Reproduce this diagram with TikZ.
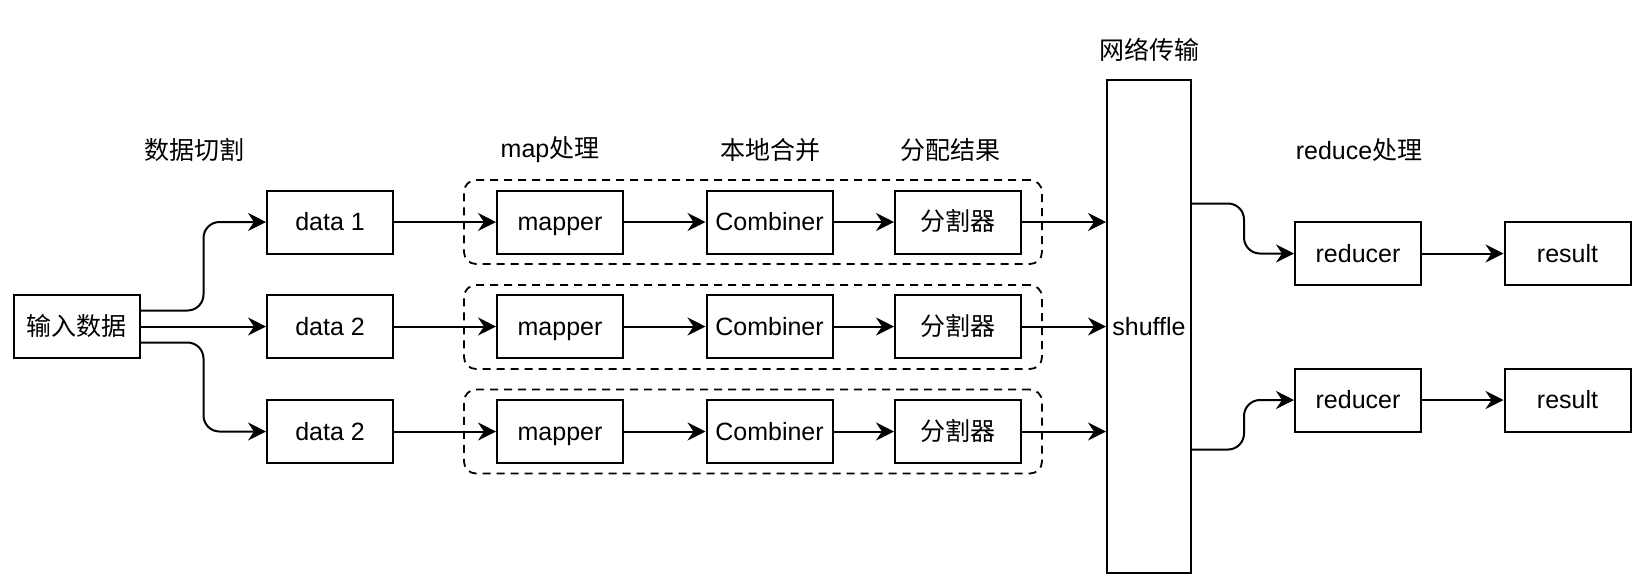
\documentclass[tikz,border=0pt]{standalone}
\usepackage{fontspec}
\setmainfont{Liberation Sans}
\newfontfamily\cjk{Noto Sans CJK SC}
\usetikzlibrary{positioning, arrows.meta, calc}

\begin{document}
\begin{tikzpicture}[
    x=0.5pt, y=-0.5pt,
    font=\fontsize{12.5}{15}\selectfont,
    block/.style={rectangle, draw, minimum width=63pt, minimum height=31.5pt, line width=1pt, inner sep=0pt, text height=8.8pt, text depth=0pt},
    grp/.style={rectangle, draw, line width=0.9pt, dash pattern=on 4pt off 3pt, rounded corners=6pt, minimum width=289pt, minimum height=42pt},
    msg/.style={-{Stealth[length=9pt, width=9pt, inset=3pt]}, line width=1pt, rounded corners=8pt},
    head/.style={inner sep=0pt}
]
\useasboundingbox (0,0) rectangle (1642,586);

% Titoli
\node[head] (t1) at (194,150) {\cjk 数据切割};
\node[head] (t2) at (550,150) {map{\cjk 处理}};
\node[head] (t3) at (770,150) {\cjk 本地合并};
\node[head] (t4) at (950,150) {\cjk 分配结果};
\node[head] (t5) at (1149,50) {\cjk 网络传输};
\node[head] (t6) at (1359,150) {reduce{\cjk 处理}};

% Gruppi tratteggiati
\node[grp] (g1) at (753,222) {};
\node[grp] (g2) at (753,327) {};
\node[grp] (g3) at (753,431.5) {};

% Nodi
\node[block] (in) at (76.5,326.5) {\cjk 输入数据};
\node[block] (d1) at (330,222) {data 1};
\node[block] (d2) at (330,326.5) {data 2};
\node[block] (d3) at (330,431.5) {data 2};

\node[block] (m1) at (560,222) {mapper};
\node[block] (m2) at (560,326.5) {mapper};
\node[block] (m3) at (560,431.5) {mapper};

\node[block] (c1) at (769.5,222) {Combiner};
\node[block] (c2) at (769.5,326.5) {Combiner};
\node[block] (c3) at (769.5,431.5) {Combiner};

\node[block] (p1) at (958,222) {\cjk 分割器};
\node[block] (p2) at (958,326.5) {\cjk 分割器};
\node[block] (p3) at (958,431.5) {\cjk 分割器};

\node[block, minimum width=42pt, minimum height=246.5pt] (sh) at (1149,326.5) {shuffle};

\node[block] (r1) at (1358,253.5) {reducer};
\node[block] (r2) at (1358,400) {reducer};
\node[block] (o1) at (1567.5,253.5) {result};
\node[block] (o2) at (1567.5,400) {result};

% Frecce
\draw[msg] ([yshift=8pt]in.east) -- ++(63,0) |- (d1.west);
\draw[msg] (in) -- (d2);
\draw[msg] ([yshift=-8pt]in.east) -- ++(63,0) |- (d3.west);

\draw[msg] (d1) -- (m1);
\draw[msg] (d2) -- (m2);
\draw[msg] (d3) -- (m3);
\draw[msg] (m1) -- (c1);
\draw[msg] (m2) -- (c2);
\draw[msg] (m3) -- (c3);
\draw[msg] (c1) -- (p1);
\draw[msg] (c2) -- (p2);
\draw[msg] (c3) -- (p3);

\draw[msg] (p1) -- (p1 -| sh.west);
\draw[msg] (p2) -- (p2 -| sh.west);
\draw[msg] (p3) -- (p3 -| sh.west);

\draw[msg] ([yshift=61.5pt]sh.east) -- ++(52,0) |- (r1.west);
\draw[msg] ([yshift=-61.5pt]sh.east) -- ++(52,0) |- (r2.west);

\draw[msg] (r1) -- (o1);
\draw[msg] (r2) -- (o2);

\end{tikzpicture}
\end{document}
